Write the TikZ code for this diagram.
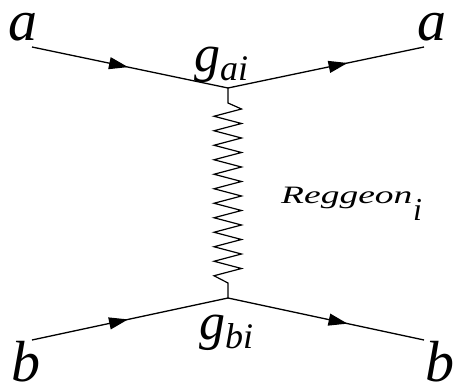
\documentclass[tikz,border=0pt]{standalone}
\usepackage{fontspec}
\setmainfont{Liberation Serif}
\newfontfamily\tmsit{Liberation Serif Italic}
\usetikzlibrary{arrows.meta,decorations.markings}
\tikzset{
  fermion/.style={line width=1.3pt},
  arrowat/.style={postaction={decorate,decoration={markings,
      mark=at position #1 with {\arrow{Triangle[length=19pt,width=12pt]}}}}},
  reg/.style={line width=1.2pt,line join=miter},
  big/.style={inner sep=0pt,text height=28pt,text depth=0pt,font=\fontsize{58}{58}\tmsit},
  coup/.style={inner sep=0pt,anchor=base west},
}
\newcommand{\gsub}[2]{{\fontsize{52}{52}\tmsit #1}\raisebox{-9pt}{\fontsize{36}{36}\tmsit #2}}
\begin{document}
\begin{tikzpicture}[x=1pt,y=-1pt]
\useasboundingbox (0,0) rectangle (453,383);
% vertices and ends
\coordinate (a1) at (32,47);
\coordinate (vt) at (228,88);
\coordinate (a2) at (424,47);
\coordinate (b1) at (32,340);
\coordinate (vb) at (228,298);
\coordinate (b2) at (424,340);
% fermion lines
\draw[fermion,arrowat=0.49] (a1) -- (vt);
\draw[fermion,arrowat=0.61] (vt) -- (a2);
\draw[fermion,arrowat=0.49] (b1) -- (vb);
\draw[fermion,arrowat=0.61] (vb) -- (b2);
% reggeon zigzag
\draw[reg] (vt) -- (228,103)
  \foreach \k in {0,...,11} { -- (241.5,{109+14.5*\k}) -- (214,{116.25+14.5*\k}) }
  -- (228,283) -- (vb);
% labels
\node[big,anchor=base] (la1) at (23,40) {a};
\node[big,anchor=base] (la2) at (432,40) {a};
\node[big,anchor=base,text height=40pt] (lb1) at (26,381) {b};
\node[big,anchor=base,text height=40pt] (lb2) at (440,381) {b};
\node[coup] (gai) at (194,71) {\gsub{g}{ai}};
\node[coup] (gbi) at (199,339) {\gsub{g}{bi}};
\node[inner sep=0pt,anchor=base west,font=\fontsize{25}{25}\tmsit] (reg) at (281,203) {\scalebox{1.5}[1]{Reggeon}};
\node[inner sep=0pt,anchor=base west,font=\fontsize{32}{32}\tmsit] (regi) at (413,220) {i};
\end{tikzpicture}
\end{document}
